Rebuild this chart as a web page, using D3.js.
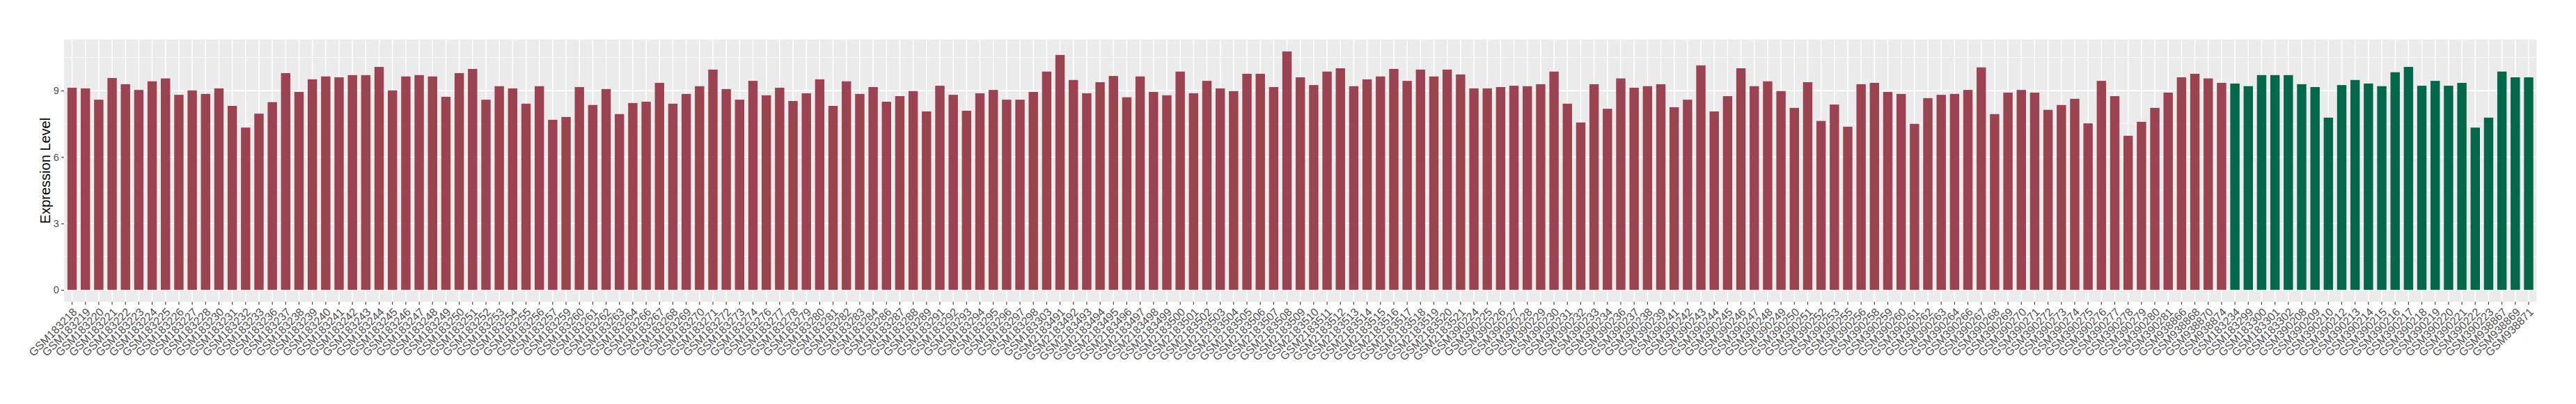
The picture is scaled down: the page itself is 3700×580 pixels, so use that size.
<!DOCTYPE html>
<html>
<head>
<meta charset="utf-8">
<script src="https://cdn.jsdelivr.net/npm/d3@7"></script>
<style>
  body { margin: 0; background: #fff; }
  text { font-family: "Liberation Sans", Arial, sans-serif; }
</style>
</head>
<body>
<script>
// tumour samples (red) followed by normal samples (green)
const tumorSamples = [
  'GSM183218','GSM183219','GSM183220','GSM183221','GSM183222','GSM183223','GSM183224','GSM183225','GSM183226','GSM183227',
  'GSM183228','GSM183230','GSM183231','GSM183232','GSM183233','GSM183236','GSM183237','GSM183238','GSM183239','GSM183240',
  'GSM183241','GSM183242','GSM183243','GSM183244','GSM183245','GSM183246','GSM183247','GSM183248','GSM183249','GSM183250',
  'GSM183251','GSM183252','GSM183253','GSM183254','GSM183255','GSM183256','GSM183257','GSM183259','GSM183260','GSM183261',
  'GSM183262','GSM183263','GSM183264','GSM183266','GSM183267','GSM183268','GSM183269','GSM183270','GSM183271','GSM183272',
  'GSM183273','GSM183274','GSM183276','GSM183277','GSM183278','GSM183279','GSM183280','GSM183281','GSM183282','GSM183283',
  'GSM183284','GSM183286','GSM183287','GSM183288','GSM183289','GSM183291','GSM183292','GSM183293','GSM183294','GSM183295',
  'GSM183296','GSM183297','GSM183298','GSM183303',
  'GSM2183491','GSM2183492','GSM2183493','GSM2183494','GSM2183495','GSM2183496','GSM2183497','GSM2183498','GSM2183499','GSM2183500',
  'GSM2183501','GSM2183502','GSM2183503','GSM2183504','GSM2183505','GSM2183506','GSM2183507','GSM2183508','GSM2183509','GSM2183510',
  'GSM2183511','GSM2183512','GSM2183513','GSM2183514','GSM2183515','GSM2183516','GSM2183517','GSM2183518','GSM2183519','GSM2183520',
  'GSM2183521',
  'GSM390224','GSM390225','GSM390226','GSM390227','GSM390228','GSM390229','GSM390230','GSM390231','GSM390232','GSM390233',
  'GSM390234','GSM390236','GSM390237','GSM390238','GSM390239','GSM390241','GSM390242','GSM390243','GSM390244','GSM390245',
  'GSM390246','GSM390247','GSM390248','GSM390249','GSM390250','GSM390251','GSM390252','GSM390253','GSM390255','GSM390256',
  'GSM390258','GSM390259','GSM390260','GSM390261','GSM390262','GSM390263','GSM390264','GSM390266','GSM390267','GSM390268',
  'GSM390269','GSM390270','GSM390271','GSM390272','GSM390273','GSM390274','GSM390275','GSM390276','GSM390277','GSM390278',
  'GSM390279','GSM390280','GSM390281',
  'GSM938866','GSM938868','GSM938870','GSM938874'
]
const tumorValues = [
  9.13,9.10,8.59,9.57,9.29,9.03,9.42,9.55,8.81,9.01,
  8.85,9.10,8.31,7.33,7.96,8.48,9.79,8.94,9.51,9.64,
  9.60,9.70,9.70,10.07,9.01,9.64,9.70,9.64,8.72,9.79,
  9.98,8.59,9.20,9.10,8.41,9.20,7.68,7.81,9.16,8.35,
  9.07,7.94,8.44,8.50,9.35,8.41,8.85,9.20,9.95,9.07,
  8.59,9.44,8.79,9.13,8.53,8.88,9.51,8.31,9.42,8.85,
  9.16,8.50,8.75,8.98,8.06,9.22,8.81,8.09,8.88,9.03,
  8.59,8.59,8.94,9.86,
  10.61,9.48,8.88,9.38,9.66,8.70,9.64,8.94,8.79,9.86,
  8.88,9.44,9.10,8.98,9.76,9.76,9.16,10.77,9.60,9.25,
  9.86,10.01,9.20,9.51,9.64,9.98,9.44,9.95,9.64,9.95,
  9.73,
  9.10,9.10,9.16,9.22,9.20,9.29,9.86,8.41,7.56,9.29,
  8.18,9.55,9.13,9.20,9.29,8.25,8.59,10.14,8.06,8.75,
  10.01,9.20,9.42,8.98,8.22,9.38,7.63,8.37,7.37,9.29,
  9.35,8.94,8.85,7.50,8.66,8.81,8.85,9.03,10.05,7.94,
  8.91,9.03,8.91,8.13,8.35,8.63,7.52,9.44,8.75,6.96,
  7.59,8.22,8.91,
  9.60,9.76,9.55,9.35
]
const normalSamples = [
  'GSM183234','GSM183299','GSM183300','GSM183301','GSM183302',
  'GSM390208','GSM390209','GSM390210','GSM390212','GSM390213','GSM390214','GSM390215','GSM390216','GSM390217','GSM390218',
  'GSM390219','GSM390220','GSM390221','GSM390222','GSM390223',
  'GSM938867','GSM938869','GSM938871'
]
const normalValues = [
  9.32,9.20,9.70,9.70,9.70,
  9.29,9.16,7.78,9.25,9.48,9.32,9.20,9.83,10.07,9.22,
  9.44,9.22,9.35,7.33,7.78,
  9.86,9.60,9.60
]
const yTicks = [0, 3, 6, 9]
const groupColors = { tumor: '#9B4351', normal: '#036847' }

const WIDTH = 3700, HEIGHT = 580
const PANEL = { left: 92, right: 3643.5, top: 56.7, bottom: 433.3 }

let data = tumorSamples.map((s, i) => ({ sample: s, value: tumorValues[i], group: 'tumor' }))
  .concat(normalSamples.map((s, i) => ({ sample: s, value: normalValues[i], group: 'normal' })))

let svg = d3.select('body').append('svg')
  .attr('width', WIDTH)
  .attr('height', HEIGHT)

// ggplot-like scales: 0.6 unit expansion on discrete x, 5% on y
let x = d3.scaleBand()
  .domain(data.map((d) => d.sample))
  .range([PANEL.left, PANEL.right])
  .paddingInner(0.3)
  .paddingOuter(0.25)

let yMax = d3.max(data, (d) => d.value)
let y = d3.scaleLinear()
  .domain([-0.05 * yMax, 1.05 * yMax])
  .range([PANEL.bottom, PANEL.top])

// panel background + grid
svg.append('rect')
  .attr('x', PANEL.left)
  .attr('y', PANEL.top)
  .attr('width', PANEL.right - PANEL.left)
  .attr('height', PANEL.bottom - PANEL.top)
  .attr('fill', '#EBEBEB')

let minor = yTicks.slice(0, -1).map((t, i) => (t + yTicks[i + 1]) / 2).concat([yTicks[yTicks.length - 1] + 1.5])
svg.append('g').selectAll('line')
  .data(minor)
  .join('line')
    .attr('x1', PANEL.left).attr('x2', PANEL.right)
    .attr('y1', (d) => y(d)).attr('y2', (d) => y(d))
    .attr('stroke', '#fff').attr('stroke-width', 0.8)

svg.append('g').selectAll('line')
  .data(yTicks)
  .join('line')
    .attr('x1', PANEL.left).attr('x2', PANEL.right)
    .attr('y1', (d) => y(d)).attr('y2', (d) => y(d))
    .attr('stroke', '#fff').attr('stroke-width', 1.6)

svg.append('g').selectAll('line')
  .data(data)
  .join('line')
    .attr('x1', (d) => x(d.sample) + x.bandwidth() / 2)
    .attr('x2', (d) => x(d.sample) + x.bandwidth() / 2)
    .attr('y1', PANEL.top).attr('y2', PANEL.bottom)
    .attr('stroke', '#fff').attr('stroke-width', 1.6)

// bars
svg.append('g').selectAll('rect')
  .data(data)
  .join('rect')
    .attr('x', (d) => x(d.sample))
    .attr('width', x.bandwidth())
    .attr('y', (d) => y(d.value))
    .attr('height', (d) => y(0) - y(d.value))
    .attr('fill', (d) => groupColors[d.group])

// y axis
let yAxis = svg.append('g')
  .attr('transform', 'translate(' + PANEL.left + ',0)')
  .call(d3.axisLeft(y).tickValues(yTicks).tickSize(4.2).tickPadding(3))
yAxis.select('.domain').remove()
yAxis.selectAll('line').attr('stroke', '#333333').attr('stroke-width', 1.1)
yAxis.selectAll('text')
  .attr('fill', '#4D4D4D')
  .style('font-size', '14.5px')
  .style('font-family', '"Liberation Sans", Arial, sans-serif')

// x axis
let xAxis = svg.append('g')
  .attr('transform', 'translate(0,' + PANEL.bottom + ')')
  .call(d3.axisBottom(x).tickSize(4.2).tickPadding(3))
xAxis.select('.domain').remove()
xAxis.selectAll('line').attr('stroke', '#333333').attr('stroke-width', 1.1)
xAxis.selectAll('text')
  .attr('fill', '#4D4D4D')
  .style('font-size', '16px')
  .style('font-family', '"Liberation Sans", Arial, sans-serif')
  .style('text-anchor', 'end')
  .attr('x', 0)
  .attr('y', 0)
  .attr('dy', '0.72em')
  .attr('transform', 'translate(0,7.5) rotate(-45)')

// axis title
svg.append('text')
  .attr('transform', 'translate(65,' + ((PANEL.top + PANEL.bottom) / 2) + ') rotate(-90)')
  .attr('text-anchor', 'middle')
  .attr('dy', '0.35em')
  .style('font-size', '20px')
  .attr('fill', '#000')
  .text('Expression Level')
</script>
</body>
</html>
